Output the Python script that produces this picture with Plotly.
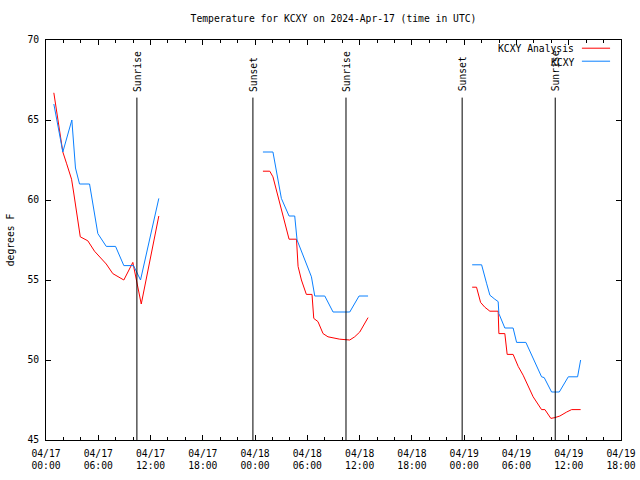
import plotly.graph_objects as go

# ---- data ----
days = ["2024-04-17", "2024-04-18", "2024-04-19"]

obs_d1_t = ["00:54", "01:56", "02:58", "03:23", "03:51", "05:00", "05:57", "06:55", "07:59", "08:56", "10:03", "10:51", "12:57"]
obs_d1_v = [66.0, 63.0, 65.0, 62.0, 61.0, 61.0, 57.9, 57.1, 57.1, 55.9, 55.9, 55.0, 60.1]

ana_d1_t = ["00:54", "01:21", "01:56", "02:21", "02:56", "03:10", "03:56", "04:48", "05:34", "06:55", "07:40", "08:56", "09:58", "10:56", "11:53", "12:57"]
ana_d1_v = [66.7, 65.0, 63.0, 62.3, 61.3, 60.5, 57.7, 57.45, 56.8, 56.0, 55.4, 55.0, 56.1, 53.5, 56.05, 59.0]

obs_d2_t = ["00:54", "02:03", "03:01", "03:54", "04:33", "04:49", "06:28", "06:51", "08:00", "08:57", "10:52", "11:56", "12:58"]
obs_d2_v = [63.0, 63.0, 60.1, 59.0, 59.0, 57.5, 55.2, 54.0, 54.0, 53.0, 53.0, 54.0, 54.0]

ana_d2_t = ["00:54", "01:41", "02:03", "03:54", "04:45", "04:56", "05:19", "05:53", "06:32", "06:44", "07:13", "07:48", "08:22", "09:43", "10:52", "11:26", "12:01", "12:58"]
ana_d2_v = [61.8, 61.8, 61.45, 57.55, 57.55, 55.85, 55.0, 54.1, 54.1, 52.6, 52.4, 51.65, 51.45, 51.3, 51.25, 51.45, 51.75, 52.65]

obs_d3_t = ["00:55", "02:00", "02:34", "02:57", "03:31", "03:54", "03:59", "04:40", "05:37", "06:01", "07:05", "08:53", "09:11", "10:02", "10:55", "11:57", "13:01", "13:22"]
obs_d3_v = [55.95, 55.95, 54.8, 54.05, 53.8, 53.65, 52.9, 52.0, 52.0, 51.1, 51.1, 48.95, 48.9, 48.0, 48.0, 48.95, 48.95, 50.0]

ana_d3_t = ["00:55", "01:25", "01:53", "02:22", "02:57", "03:54", "03:59", "04:40", "04:56", "05:37", "06:12", "06:46", "07:55", "08:53", "09:16", "09:57", "10:25", "10:59", "11:46", "12:20", "13:22"]
ana_d3_v = [54.55, 54.55, 53.6, 53.3, 53.05, 53.05, 51.65, 51.65, 50.35, 50.35, 49.6, 49.05, 47.7, 46.9, 46.9, 46.35, 46.4, 46.5, 46.75, 46.9, 46.9]

sun_t = ["2024-04-17 10:26", "2024-04-17 23:45", "2024-04-18 10:26", "2024-04-18 23:46", "2024-04-19 10:27"]
sun_lbl = ["Sunrise", "Sunset", "Sunrise", "Sunset", "Sunrise"]

title = "Temperature for KCXY on 2024-Apr-17 (time in UTC)"
ana_name = "KCXY Analysis"
obs_name = "KCXY"
x_range = ["2024-04-17 00:00", "2024-04-19 18:00"]
y_range = [45, 70]


def join(parts):
    xs, ys = [], []
    for day, ts, vs in parts:
        xs += [day + " " + t for t in ts] + [None]
        ys += list(vs) + [None]
    return xs, ys


ax, ay = join([(days[0], ana_d1_t, ana_d1_v), (days[1], ana_d2_t, ana_d2_v), (days[2], ana_d3_t, ana_d3_v)])
ox, oy = join([(days[0], obs_d1_t, obs_d1_v), (days[1], obs_d2_t, obs_d2_v), (days[2], obs_d3_t, obs_d3_v)])

RED = "#ff0000"
BLUE = "#0a80ff"
FONT = "DejaVu Sans Mono"

fig = go.Figure()
fig.add_trace(go.Scatter(x=ax, y=ay, mode="lines", name=ana_name,
                         line=dict(color=RED, width=1), connectgaps=False, showlegend=False))
fig.add_trace(go.Scatter(x=ox, y=oy, mode="lines", name=obs_name,
                         line=dict(color=BLUE, width=1), connectgaps=False, showlegend=False))

line_top = 66.4
for t, lbl in zip(sun_t, sun_lbl):
    fig.add_shape(type="line", xref="x", yref="y", x0=t, x1=t, y0=y_range[0], y1=line_top,
                  line=dict(color="black", width=1))
    fig.add_annotation(x=t, y=66.65, xref="x", yref="y", text=lbl, textangle=-90,
                       showarrow=False, xanchor="center", yanchor="bottom",
                       font=dict(family=FONT, size=9.7, color="black"))

# legend (gnuplot style: text then sample line)
for name, col, yp in [(ana_name, RED, 0.9775), (obs_name, BLUE, 0.945)]:
    fig.add_annotation(x=0.922, y=yp, xref="paper", yref="paper", text=name, showarrow=False,
                       xanchor="right", yanchor="middle",
                       font=dict(family=FONT, size=9.7, color="black"))
    fig.add_shape(type="line", xref="paper", yref="paper", x0=0.932, x1=0.981, y0=yp + 0.002, y1=yp + 0.002,
                  line=dict(color=col, width=1))

fig.update_layout(
    width=640, height=480, autosize=False,
    margin=dict(l=46, r=19, t=40, b=40, autoexpand=False),
    paper_bgcolor="white", plot_bgcolor="white",
    font=dict(family=FONT, size=9.7, color="black"),
    title=dict(text=title, x=0.5, xref="paper", y=1 - 19 / 480, yref="container",
               xanchor="center", yanchor="middle", font=dict(family=FONT, size=9.7)),
    showlegend=False,
)
fig.update_xaxes(
    type="date", range=x_range, tick0="2024-04-17", dtick=6 * 3600 * 1000,
    tickformat="%m/%d<br>%H:%M", ticks="inside", ticklen=5, tickcolor="black",
    ticklabelstandoff=4, automargin=False,
    showline=True, linecolor="black", linewidth=1, mirror="allticks",
    showgrid=False, zeroline=False,
    minor=dict(dtick=2 * 3600 * 1000, ticks="inside", ticklen=3, tickcolor="black", showgrid=False),
)
fig.update_yaxes(
    range=y_range, dtick=5, ticks="inside", ticklen=5, tickcolor="black",
    ticklabelstandoff=4, automargin=False,
    showline=True, linecolor="black", linewidth=1, mirror="allticks",
    showgrid=False, zeroline=False,
    title=dict(text="degrees F", standoff=10, font=dict(family=FONT, size=9.7)),
)

fig.write_html("out.html", config={"responsive": False, "displayModeBar": False},
               post_script="document.body.style.margin='0px';")
